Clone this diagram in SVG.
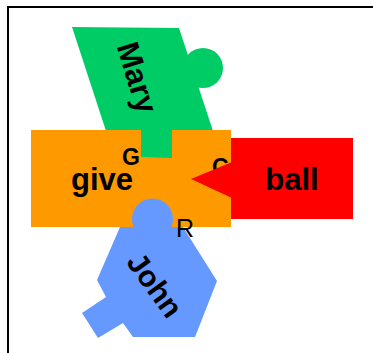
<svg xmlns="http://www.w3.org/2000/svg" width="373" height="353" viewBox="0 0 373 353">
<style>
.lbl{font-family:"Liberation Sans",Arial,sans-serif;font-size:31px;fill:#000;text-anchor:middle}
.b{font-weight:bold}
.port{font-family:"Liberation Sans",Arial,sans-serif;font-size:23px;font-weight:bold;fill:#000}
.mary{fill:#00CC66}
.give{fill:#FF9900}
.ball{fill:#FF0000}
.john{fill:#6699FF}
</style>
<rect x="8" y="7" width="380" height="360" fill="#fff" stroke="#000" stroke-width="2"/>
<g id="mary">
<circle class="mary" cx="203" cy="68" r="20"/>
<polygon class="mary" points="72,27 179,28 213,131 106,131"/>
</g>
<g id="give">
<rect class="give" x="31" y="130" width="200" height="97"/>
</g>
<g id="mary-tab">
<polygon class="mary" points="141,128 172,128 172,158 141,157"/>
</g>
<g id="ports1">
<text class="port" x="122" y="165">G</text>
<text class="port" x="212" y="175">C</text>
</g>
<g id="ball">
<rect class="ball" x="231" y="138" width="122" height="81"/>
<polygon class="ball" points="191,179 232,162 232,198"/>
</g>
<g id="john">
<circle class="john" cx="152.5" cy="219" r="20.5"/>
<polygon class="john" points="120,227 183,227 217,281 195,337 133,337 123,323 98,338 82,313 106,297 97,280"/>
</g>
<g id="ports2">
<text class="port" x="176" y="237" style="font-weight:normal;font-size:25px">R</text>
</g>
<g id="labels">
<text class="lbl b" x="102" y="190">give</text>
<text class="lbl b" x="292" y="190">ball</text>
<text class="lbl b" x="0" y="0" dy="0.35em" transform="translate(137.5,77.5) rotate(73)">Mary</text>
<text class="lbl" x="0" y="0" dy="0.35em" transform="translate(155,285) rotate(54)" style="font-size:30px;font-weight:600">John</text>
</g>
</svg>
